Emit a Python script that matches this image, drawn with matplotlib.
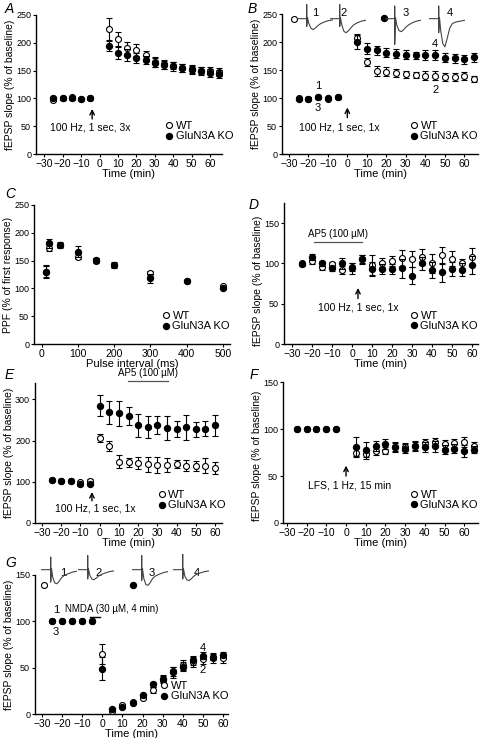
import numpy as np
import matplotlib
matplotlib.use('Agg')
import matplotlib.pyplot as plt
from matplotlib.lines import Line2D

plt.rcParams['font.family'] = ['Liberation Sans', 'DejaVu Sans']

# ---- data ----
t_ab = [-25, -20, -15, -10, -5, 5, 10, 15, 20, 25, 30, 35, 40, 45, 50, 55, 60, 65]

a_wt = [97, 100, 102, 99, 101, 224, 206, 191, 187, 178, 166, 161, 159, 155, 151, 150, 150, 148]
a_wt_err = [2, 2, 2, 2, 2, 20, 14, 11, 11, 8, 9, 8, 7, 7, 7, 7, 7, 7]
a_ko = [100, 100, 100, 99, 100, 195, 182, 178, 172, 169, 164, 160, 158, 155, 153, 149, 146, 144]
a_ko_err = [2, 2, 2, 2, 2, 10, 12, 10, 9, 8, 8, 8, 8, 7, 7, 7, 7, 7]

b_wt = [100, 99, 102, 98, 102, 207, 165, 149, 147, 145, 142, 141, 140, 140, 138, 137, 139, 134]
b_wt_err = [2, 2, 2, 2, 2, 8, 7, 9, 8, 7, 7, 6, 8, 8, 7, 7, 7, 6]
b_ko = [98, 99, 101, 100, 101, 200, 188, 185, 181, 179, 177, 176, 177, 177, 172, 171, 169, 173]
b_ko_err = [2, 2, 2, 2, 2, 12, 10, 8, 8, 8, 8, 7, 9, 9, 8, 8, 8, 8]

c_int = [10, 20, 50, 100, 150, 200, 300, 400, 500]
c_wt = [130, 173, 178, 157, 150, 142, 127, 113, 104]
c_wt_err = [10, 5, 4, 5, 4, 4, 4, 2, 2]
c_ko = [130, 181, 178, 166, 151, 142, 118, 113, 101]
c_ko_err = [12, 8, 5, 10, 4, 5, 8, 2, 2]

t_d = [-25, -20, -15, -10, -5, 0, 5, 10, 15, 20, 25, 30, 35, 40, 45, 50, 55, 60]
d_wt = [100, 103, 96, 99, 92, 95, 106, 98, 101, 103, 107, 105, 108, 100, 110, 106, 100, 108]
d_wt_err = [2, 4, 4, 3, 5, 5, 5, 12, 6, 6, 10, 10, 10, 12, 11, 9, 6, 11]
d_ko = [99, 108, 100, 94, 100, 94, 105, 93, 93, 93, 94, 85, 100, 92, 89, 93, 92, 98]
d_ko_err = [2, 4, 3, 3, 7, 7, 6, 9, 6, 6, 12, 10, 8, 10, 12, 9, 8, 11]

t_e = [-25, -20, -15, -10, -5, 0, 5, 10, 15, 20, 25, 30, 35, 40, 45, 50, 55, 60]
e_wt = [104, 102, 102, 100, 103, 206, 186, 149, 147, 145, 143, 141, 141, 143, 139, 139, 139, 133]
e_wt_err = [3, 3, 3, 3, 3, 10, 12, 15, 10, 15, 18, 20, 17, 10, 13, 12, 18, 15]
e_ko = [104, 102, 102, 94, 95, 285, 269, 266, 259, 237, 233, 237, 231, 228, 232, 228, 229, 237]
e_ko_err = [3, 3, 3, 3, 3, 25, 28, 30, 22, 28, 26, 22, 30, 20, 30, 18, 18, 25]

t_f = [-25, -20, -15, -10, -5, 5, 10, 15, 20, 25, 30, 35, 40, 45, 50, 55, 60, 65]
f_wt = [100.5, 99.7, 99.7, 99.5, 100.5, 75, 73, 77, 77, 81, 81, 82, 85, 86, 84, 85, 86, 82]
f_wt_err = [1, 1, 1, 1, 1, 5, 5, 5, 4, 4, 4, 4, 4, 4, 4, 4, 5, 4]
f_ko = [100.5, 99.7, 99.7, 99.5, 100.5, 81, 78, 82, 84, 81, 79, 82, 81, 81.5, 78, 79, 76.5, 78]
f_ko_err = [1, 1, 1, 1, 1, 10, 8, 5, 5, 5, 5, 5, 5, 6, 5, 5, 6, 4]

t_g = [-25, -20, -15, -10, -5, 0, 5, 10, 15, 20, 25, 30, 35, 40, 45, 50, 55, 60]
g_wt = [100, 100, 100, 100, 100, 65, 3, 10, 12.5, 17, 26, 37, 46, 53, 56, 59, 60, 60]
g_wt_err = [0, 0, 0, 0, 0, 11, 1, 1, 1, 1, 3, 4, 5, 5, 5, 5, 5, 5]
g_ko = [100, 100, 100, 100, 100, 49, 5, 8, 12, 20, 32, 38, 45, 51, 58, 63, 62, 64]
g_ko_err = [0, 0, 0, 0, 0, 12, 1, 1, 1, 2, 3, 4, 6, 5, 5, 4, 4, 3]

# example fEPSP traces (arbitrary units)
tr_t = [0, 7, 7, 7, 7.6, 8.5, 10, 11.5, 13, 15, 17, 20, 23, 26]
trB = [
    [0, 0, 0.9, -0.5, 0.05, -0.3, -0.6, -0.7, -0.62, -0.45, -0.32, -0.2, -0.12, -0.08],
    [0, 0, 0.9, -0.5, 0.05, -0.4, -0.8, -0.9, -0.8, -0.6, -0.4, -0.25, -0.15, -0.1],
    [0, 0, 0.8, -1.65, 0.05, -0.4, -0.75, -0.83, -0.75, -0.55, -0.4, -0.25, -0.15, -0.1],
    [0, 0, 0.8, -0.9, 0.05, -0.8, -1.6, -1.8, -1.3, -0.6, -0.3, -0.2, -0.15, -0.1],
]
trG = [
    [0, 0, 0.8, -0.8, 0.05, -0.5, -0.85, -0.9, -0.75, -0.5, -0.35, -0.25, -0.15, -0.1],
    [0, 0, 0.9, -0.6, 0.05, -0.35, -0.6, -0.64, -0.55, -0.4, -0.3, -0.2, -0.12, -0.08],
    [0, 0, 0.9, -0.7, 0.05, -0.55, -0.95, -1.0, -0.85, -0.55, -0.4, -0.28, -0.18, -0.12],
    [0, 0, 1.0, -0.6, 0.05, -0.4, -0.65, -0.7, -0.6, -0.42, -0.3, -0.2, -0.12, -0.08],
]

W, H = 480, 738
fig = plt.figure(figsize=(W / 100, H / 100), dpi=100)


def px_axes(left, top, right, bottom):
    return fig.add_axes([left / W, (H - bottom) / H, (right - left) / W, (bottom - top) / H])


def style(ax, xlim, ylim, yticks, xticks, xlabel, ylabel, ly=0.5):
    ax.set_xlim(*xlim)
    ax.set_ylim(*ylim)
    ax.set_yticks(yticks)
    ax.set_xticks(xticks)
    for s in ['top', 'right']:
        ax.spines[s].set_visible(False)
    for s in ['left', 'bottom']:
        ax.spines[s].set_linewidth(1.0)
    ax.tick_params(axis='y', labelsize=6.5, length=2.5, width=0.8, pad=1)
    ax.tick_params(axis='x', labelsize=7.5, length=2.5, width=0.8, pad=1)
    ax.set_xlabel(xlabel, fontsize=8, labelpad=0)
    ax.set_ylabel(ylabel, fontsize=7.5, labelpad=1)
    ax.yaxis.label.set_y(ly)


def plot_pair(ax, x, wt, wte, ko, koe):
    ax.errorbar(x, wt, yerr=wte, fmt='o', ms=4.3, mfc='white', mec='black', mew=0.8,
                ecolor='black', elinewidth=0.8, capsize=2, capthick=0.8, zorder=3)
    ax.errorbar(x, ko, yerr=koe, fmt='o', ms=4.3, mfc='black', mec='black',
                ecolor='black', elinewidth=0.8, capsize=2, capthick=0.8, zorder=4)


def legend(ax, xr, yb):
    h = [Line2D([], [], ls='none', marker='o', ms=4.3, mfc='white', mec='black', mew=0.8),
         Line2D([], [], ls='none', marker='o', ms=4.3, mfc='black', mec='black')]
    ax.legend(h, ['WT', 'GluN3A KO'], loc='lower right', bbox_to_anchor=(xr, yb),
              frameon=False, fontsize=8, handlelength=0.6, handletextpad=0.3,
              labelspacing=0.05, borderpad=0, borderaxespad=0)


def arrow(ax, x, y0, y1):
    ax.annotate('', xy=(x, y1), xytext=(x, y0),
                arrowprops=dict(arrowstyle='->', lw=1.0, color='black', mutation_scale=8))


def traces(lefts, top, bottom, trs):
    for lft, tr in zip(lefts, trs):
        ia = px_axes(lft, top, lft + 36, bottom)
        ia.plot(tr_t, tr, color='#444444', lw=0.8)
        ia.set_xlim(0, 26)
        ia.set_ylim(-2, 1)
        ia.axis('off')


ylab = 'fEPSP slope (% of baseline)'
tticks = [-30, -20, -10, 0, 10, 20, 30, 40, 50, 60]

# A
ax = px_axes(36, 15, 222, 154)
plot_pair(ax, t_ab, a_wt, a_wt_err, a_ko, a_ko_err)
style(ax, (-34.5, 66.5), (0, 250), [0, 50, 100, 150, 200, 250], tticks, 'Time (min)', ylab)
arrow(ax, -4, 58, 86)
ax.text(-5, 47, '100 Hz, 1 sec, 3x', fontsize=7.5, ha='center', va='center')
legend(ax, 1.06, 0.09)
fig.text(5 / W, 1 - 9 / H, 'A', fontsize=10, style='italic', va='center')

# B
ax = px_axes(282, 14, 478, 154)
plot_pair(ax, t_ab, b_wt, b_wt_err, b_ko, b_ko_err)
style(ax, (-33.5, 67), (0, 250), [0, 50, 100, 150, 200, 250], tticks, 'Time (min)', ylab)
arrow(ax, 0, 60, 88)
ax.text(-4, 47, '100 Hz, 1 sec, 1x', fontsize=7.5, ha='center', va='center')
legend(ax, 1.0, 0.09)
for x, y, s in [(-15, 121, '1'), (-15, 83, '3'), (45, 197, '4'), (45, 114, '2')]:
    ax.text(x, y, s, fontsize=8, ha='center', va='center')
ax.plot([-27.5], [241], 'o', ms=4.3, mfc='white', mec='black', mew=0.8, clip_on=False)
ax.plot([19], [243], 'o', ms=4.3, mfc='black', mec='black', clip_on=False)
for x, s in [(-16.3, '1'), (-1.7, '2'), (29.7, '3'), (52.4, '4')]:
    ax.text(x, 252, s, fontsize=8, ha='center', va='center', clip_on=False)
fig.text(248 / W, 1 - 9 / H, 'B', fontsize=10, style='italic', va='center')
traces([297, 330, 385, 429], 3, 50, trB)

# C
ax = px_axes(34, 205, 230, 344)
plot_pair(ax, c_int, c_wt, c_wt_err, c_ko, c_ko_err)
style(ax, (-22, 520), (0, 250), [0, 50, 100, 150, 200, 250], [0, 100, 200, 300, 400, 500],
      'Pulse interval (ms)', 'PPF (% of first response)')
legend(ax, 1.0, 0.09)
fig.text(5 / W, 1 - 194 / H, 'C', fontsize=10, style='italic', va='center')

# D
ax = px_axes(284, 203, 478, 344)
plot_pair(ax, t_d, d_wt, d_wt_err, d_ko, d_ko_err)
style(ax, (-34, 63), (0, 175), [0, 50, 100, 150], tticks, 'Time (min)', ylab, ly=0.45)
ax.plot([-19, 5], [127, 127], color='#555555', lw=0.9)
ax.text(-7, 137, 'AP5 (100 \u00b5M)', fontsize=7, ha='center', va='center')
arrow(ax, 3, 53, 73)
ax.text(3, 45, '100 Hz, 1 sec, 1x', fontsize=7.5, ha='center', va='center')
legend(ax, 1.0, 0.09)
fig.text(249 / W, 1 - 205 / H, 'D', fontsize=10, style='italic', va='center')

# E
ax = px_axes(35, 383, 222, 523)
plot_pair(ax, t_e, e_wt, e_wt_err, e_ko, e_ko_err)
style(ax, (-33.6, 63.6), (0, 340), [0, 100, 200, 300], tticks, 'Time (min)', ylab)
ax.plot([14.6, 35.4], [344, 344], color='#555555', lw=0.9, clip_on=False)
ax.text(25, 364, 'AP5 (100 \u00b5M)', fontsize=7, ha='center', va='center', clip_on=False)
arrow(ax, -4, 47, 82)
ax.text(-2.3, 35, '100 Hz, 1 sec, 1x', fontsize=7.5, ha='center', va='center')
legend(ax, 1.02, 0.09)
fig.text(5 / W, 1 - 375 / H, 'E', fontsize=10, style='italic', va='center')

# F
ax = px_axes(283, 382, 478, 523)
plot_pair(ax, t_f, f_wt, f_wt_err, f_ko, f_ko_err)
style(ax, (-32, 67), (0, 150), [0, 50, 100, 150], tticks, 'Time (min)', ylab, ly=0.48)
arrow(ax, 0, 47, 64)
ax.text(2, 40, 'LFS, 1 Hz, 15 min', fontsize=7.5, ha='center', va='center')
legend(ax, 1.0, 0.09)
fig.text(250 / W, 1 - 375 / H, 'F', fontsize=10, style='italic', va='center')

# G
ax = px_axes(35, 575, 228, 714)
plot_pair(ax, t_g, g_wt, g_wt_err, g_ko, g_ko_err)
style(ax, (-33.5, 62.5), (0, 150), [0, 50, 100, 150], tticks, 'Time (min)', ylab)
ax.plot([-6, -1], [105, 105], color='black', lw=1.0)
ax.text(-18.4, 113, 'NMDA (30 \u00b5M, 4 min)', fontsize=7, ha='left', va='center')
for x, y, s in [(-23, 112, '1'), (-23, 88, '3'), (50, 71, '4'), (50, 47, '2')]:
    ax.text(x, y, s, fontsize=8, ha='center', va='center')
ax.plot([-29], [139], 'o', ms=4.3, mfc='white', mec='black', mew=0.8, clip_on=False)
ax.plot([15.3], [139], 'o', ms=4.3, mfc='black', mec='black', clip_on=False)
for x, s in [(-19.6, '1'), (-1.7, '2'), (24.7, '3'), (47, '4')]:
    ax.text(x, 152, s, fontsize=8, ha='center', va='center', clip_on=False)
legend(ax, 1.0, 0.09)
fig.text(5 / W, 1 - 563 / H, 'G', fontsize=10, style='italic', va='center')
traces([41, 78, 132, 173], 554, 601, trG)

fig.savefig('out.png', dpi=100)
